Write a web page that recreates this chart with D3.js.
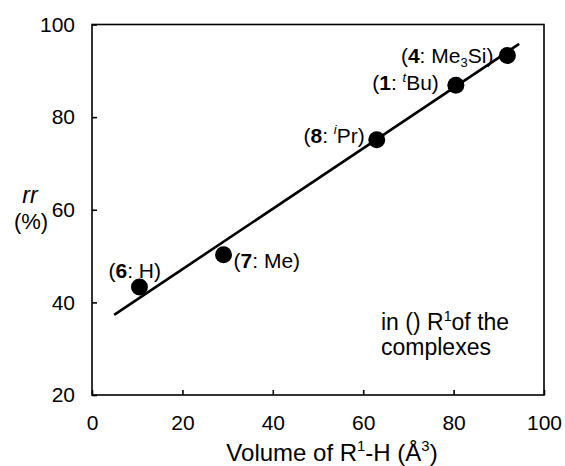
<!DOCTYPE html>
<html>
<head>
<meta charset="utf-8">
<script src="https://cdn.jsdelivr.net/npm/d3@7/dist/d3.min.js"></script>
<style>
  body { margin: 0; background: #fff; }
  svg { display: block; font-family: "Liberation Sans", Arial, sans-serif; }
</style>
</head>
<body>
<div id="chart"></div>
<script>
'use strict';

// data
const compounds = ['6', '7', '8', '1', '4'];
const groups = ['H', 'Me', '^{i}Pr', '^{t}Bu', 'Me_{3}Si'];
const volume = [10.5, 29.1, 63.0, 80.5, 91.9];
const rr = [43.3, 50.3, 75.1, 86.9, 93.3];
const fitX = [4.9, 94.5];
const fitY = [37.3, 95.8];
const xTicks = [0, 20, 40, 60, 80, 100];
const yTicks = [20, 40, 60, 80, 100];

const W = 565, H = 466;
const margin = {top: 24.5, right: 21, bottom: 71, left: 92};
const iw = W - margin.left - margin.right;
const ih = H - margin.top - margin.bottom;
const FS = 21;

// where each label sits relative to its dot (px)
const labelPlace = {
  '6': {dx: -31, dy: -9, anchor: 'start'},
  '7': {dx: 10, dy: 13, anchor: 'start'},
  '8': {dx: -12, dy: 3, anchor: 'end'},
  '1': {dx: -17, dy: 5, anchor: 'end'},
  '4': {dx: -14, dy: 7, anchor: 'end'}
};

const svg = d3.select('#chart').append('svg')
    .attr('width', W)
    .attr('height', H);

const g = svg.append('g')
    .attr('transform', 'translate(' + margin.left + ',' + margin.top + ')');

const x = d3.scaleLinear().domain([0, 100]).range([0, iw]);
const y = d3.scaleLinear().domain([20, 100]).range([ih, 0]);

// axes, ticks pointing inward
const xAxis = g.append('g')
    .attr('transform', 'translate(0,' + ih + ')')
    .call(d3.axisBottom(x).tickValues(xTicks).tickSizeInner(-5).tickSizeOuter(0).tickPadding(20));
const yAxis = g.append('g')
    .call(d3.axisLeft(y).tickValues(yTicks).tickSizeInner(-5).tickSizeOuter(0).tickPadding(17));

[xAxis, yAxis].forEach((a) => {
  a.select('.domain').remove();
  a.selectAll('line').attr('stroke', '#000').attr('stroke-width', 1.6);
  a.selectAll('text').attr('fill', '#000').style('font-size', FS + 'px');
});

// frame
g.append('rect')
    .attr('width', iw)
    .attr('height', ih)
    .attr('fill', 'none')
    .attr('stroke', '#000')
    .attr('stroke-width', 1.6);

// fit line
g.append('line')
    .attr('x1', x(fitX[0])).attr('y1', y(fitY[0]))
    .attr('x2', x(fitX[1])).attr('y2', y(fitY[1]))
    .attr('stroke', '#000')
    .attr('stroke-width', 2.6);

// points
g.selectAll('.dot')
    .data(volume)
  .enter().append('circle')
    .attr('class', 'dot')
    .attr('cx', (d) => x(d))
    .attr('cy', (d, i) => y(rr[i]))
    .attr('r', 8.5)
    .attr('fill', '#000');

// rich text helper: ^{..} superscript, _{..} subscript
function addRich(text, str, size, italicSup) {
  const re = /(\^|_)\{([^}]*)\}|[^^_]+/g;
  let m;
  let shift = 0;
  while ((m = re.exec(str)) !== null) {
    const t = text.append('tspan');
    if (m[1] === '^') {
      t.text(m[2]).style('font-size', (size * 0.62) + 'px')
          .attr('dy', -size * 0.4 - shift);
      if (italicSup) t.style('font-style', 'italic');
      shift = -size * 0.4;
    } else if (m[1] === '_') {
      t.text(m[2]).style('font-size', (size * 0.62) + 'px').attr('dy', size * 0.22 - shift);
      shift = size * 0.22;
    } else {
      t.text(m[0]).attr('dy', -shift);
      shift = 0;
    }
  }
}

// point labels
compounds.forEach((c, i) => {
  const p = labelPlace[c];
  const t = g.append('text')
      .attr('x', x(volume[i]) + p.dx)
      .attr('y', y(rr[i]) + p.dy)
      .attr('text-anchor', p.anchor)
      .style('font-size', FS + 'px');
  t.append('tspan').text('(');
  t.append('tspan').text(c).style('font-weight', 'bold');
  t.append('tspan').text(': ');
  addRich(t, groups[i] + ')', FS, true);
});

// note
const note = svg.append('text')
    .attr('x', 381)
    .attr('y', 330)
    .style('font-size', '23px');
addRich(note, 'in () R^{1}of the', 23, false);
svg.append('text')
    .attr('x', 381)
    .attr('y', 355)
    .style('font-size', '23px')
    .text('complexes');

// axis titles
const xt = svg.append('text')
    .attr('x', margin.left + iw / 2 + 14)
    .attr('y', 461)
    .attr('text-anchor', 'middle')
    .style('font-size', '24px');
addRich(xt, 'Volume of R^{1}-H (Å^{3})', 24, false);

svg.append('text')
    .attr('x', 30)
    .attr('y', 203)
    .attr('text-anchor', 'middle')
    .style('font-size', '23px')
    .style('font-style', 'italic')
    .text('rr');
svg.append('text')
    .attr('x', 31)
    .attr('y', 229)
    .attr('text-anchor', 'middle')
    .style('font-size', '22px')
    .text('(%)');
</script>
</body>
</html>
